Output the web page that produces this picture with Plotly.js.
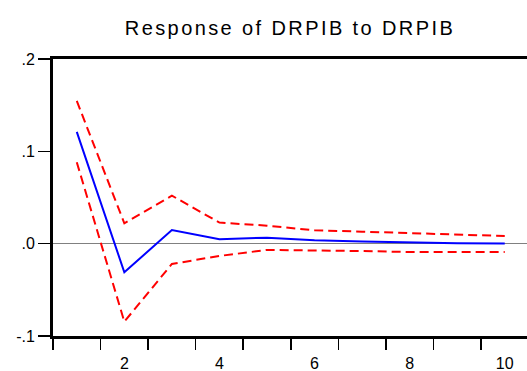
<!DOCTYPE html>
<html>
<head>
<meta charset="utf-8">
<script src="https://cdn.plot.ly/plotly-3.0.1.min.js"></script>
<style>
  body { margin: 0; background: #fff; }
  .gtitle { letter-spacing: 2.4px; }
</style>
</head>
<body>
<div id="chart" style="width:527px;height:371px"></div>
<script>
const periods = [1, 2, 3, 4, 5, 6, 7, 8, 9, 10];
const response = [0.121, -0.031, 0.0148, 0.0048, 0.0065, 0.0037, 0.0024, 0.0011, 0.0004, 0.0001];
const upperBand = [0.1546, 0.0221, 0.052, 0.0228, 0.0195, 0.0145, 0.013, 0.0113, 0.0094, 0.0083];
const lowerBand = [0.0882, -0.0845, -0.022, -0.0133, -0.0068, -0.0072, -0.008, -0.009, -0.009, -0.009];
const yTickVals = [-0.1, 0, 0.1, 0.2];
const yTickText = ['-.1', '.0', '.1', '.2'];
const xTickVals = [2, 4, 6, 8, 10];
const xTickText = ['2', '4', '6', '8', '10'];

const dash = '9px,5px';
const traces = [
  { x: periods, y: upperBand, mode: 'lines', line: { color: '#ff0000', width: 2, dash: dash }, hoverinfo: 'skip' },
  { x: periods, y: lowerBand, mode: 'lines', line: { color: '#ff0000', width: 2, dash: dash }, hoverinfo: 'skip' },
  { x: periods, y: response, mode: 'lines', line: { color: '#0000ff', width: 2 }, hoverinfo: 'skip' }
];

const layout = {
  width: 527, height: 371,
  margin: { l: 53, r: 0, t: 59, b: 35, pad: 0 },
  paper_bgcolor: '#ffffff', plot_bgcolor: '#ffffff',
  showlegend: false,
  font: { family: 'Liberation Sans, Arial, sans-serif', color: '#000000', size: 16 },
  title: {
    text: 'Response of DRPIB to DRPIB',
    font: { size: 20, color: '#000000', family: 'Liberation Sans, Arial, sans-serif' },
    x: 0.5, xanchor: 'center', xref: 'paper',
    y: 1 - 28 / 371, yref: 'container', yanchor: 'middle'
  },
  xaxis: {
    range: [0.5, 10.468],
    showgrid: false, zeroline: false,
    showline: true, linecolor: '#000000', linewidth: 3, mirror: true,
    tickmode: 'array', tickvals: xTickVals, ticktext: xTickText,
    ticks: '', ticklabelstandoff: 11,
    tickfont: { size: 16 },
    minor: { ticks: 'outside', tick0: 0.5, dtick: 1, ticklen: 11, tickwidth: 1.5, tickcolor: '#000000', showgrid: false }
  },
  yaxis: {
    range: [-0.1, 0.2],
    showgrid: false,
    zeroline: true, zerolinecolor: '#808080', zerolinewidth: 1.5,
    showline: true, linecolor: '#000000', linewidth: 3, mirror: false,
    tickmode: 'array', tickvals: yTickVals, ticktext: yTickText,
    ticks: 'outside', ticklen: 12, tickwidth: 1.5, tickcolor: '#000000',
    tickfont: { size: 16 }
  }
};

Plotly.newPlot('chart', traces, layout, { staticPlot: true, displayModeBar: false });
</script>
</body>
</html>
